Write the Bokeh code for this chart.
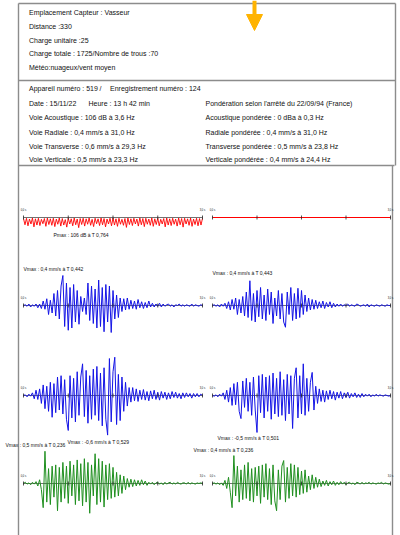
import math
import numpy as np
from bokeh.plotting import figure
from bokeh.models import Range1d, Arrow, NormalHead
from bokeh.core.properties import value
from bokeh.embed import file_html
from bokeh.resources import INLINE

# ---------------- data ----------------
header_lines = ["Emplacement Capteur : Vasseur", "Distance :330", "Charge unitaire :25",
                "Charge totale : 1725/Nombre de trous :70", "Météo:nuageux/vent moyen"]
device_no = "Appareil numéro : 519"
record_no = "Enregistrement numéro : 124"
date_txt = "Date : 15/11/22"
hour_txt = "Heure : 13 h 42 min"
voies = ["Voie Acoustique : 106 dB à 3,6 Hz", "Voie Radiale : 0,4 mm/s à 31,0 Hz",
         "Voie Transverse : 0,6 mm/s à 29,3 Hz", "Voie Verticale : 0,5 mm/s à 23,3 Hz"]
ponder_title = "Pondération selon l'arrêté du 22/09/94 (France)"
ponderees = ["Acoustique pondérée : 0 dBa à 0,3 Hz", "Radiale pondérée : 0,4 mm/s à 31,0 Hz",
             "Transverse pondérée : 0,5 mm/s à 23,8 Hz", "Verticale pondérée : 0,4 mm/s à 24,4 Hz"]
time_labels = ["0,0 s", "3,0 s"]
tick_times = [0.0, 0.75, 1.5, 2.25, 3.0]
duration = 3.0

# acoustic pressure (Pa), left = raw, right = weighted (flat)
acoustic_left = [
    -0.4, -2.8, -0.3, -3.2, -0.6, -2.5, -0.2, -3.6, -0.5, -2.9,
    -0.3, -3.1, -0.7, -2.4, -0.4, -3.4, -0.2, -2.7, -0.5, -3.0,
    -0.3, -3.5, -0.6, -2.6, -0.2, -3.3, -0.4, -2.9, -0.8, -3.7,
    -0.3, -2.5, -0.5, -3.2, -0.2, -2.8, -0.6, -3.9, -0.4, -2.7,
    -0.3, -3.3, -0.5, -2.6, -0.2, -3.0, -0.7, -3.5, -0.3, -2.4,
    -0.5, -3.1, -0.2, -2.8, -0.4, -3.6, -0.6, -2.5, -0.3, -3.2,
    -0.2, -2.9, -0.5, -3.4, -0.3, -2.6, -0.7, -3.0, -0.4, -3.8,
    -0.2, -2.7, -0.5, -3.1, -0.3, -2.5, -0.6, -3.3, -0.2, -2.8,
    -0.4, -3.5, -0.3, -2.6, -0.6, -3.0, -0.2, -3.4, -0.5, -2.7,
    -0.3, -3.2, -0.7, -2.5, -0.4, -3.6, -0.2, -2.9, -0.5, -3.1,
    -0.3, -2.6, -0.6, -3.3, -0.2, -2.8, -0.4, -3.7, -0.3, -2.5,
    -0.5, -3.0, -0.2, -3.4, -0.6, -2.7, -0.3, -3.2, -0.4, -2.9,
    -0.3]
acoustic_right = [0.0, 0.0]

# velocities (mm/s)
radial_left = [
    0.00, 0.01, -0.01, 0.02, -0.02, 0.01, -0.01, 0.02, -0.03, 0.02,
    -0.04, 0.06, -0.05, 0.09, -0.12, 0.07, -0.10, 0.16, -0.14, 0.20,
    -0.18, 0.26, 0.40, -0.28, 0.30, -0.33, 0.24, -0.30, 0.28, -0.22,
    0.20, -0.25, 0.12, -0.08, 0.10, -0.12, 0.30, -0.20, 0.26, -0.24,
    0.22, -0.30, 0.34, -0.28, 0.24, -0.35, 0.28, -0.22, 0.26, -0.36,
    0.20, -0.18, 0.14, -0.16, 0.10, -0.08, 0.09, -0.06, 0.10, -0.05,
    0.07, -0.04, 0.06, -0.05, 0.08, -0.03, 0.05, -0.04, 0.04, -0.03,
    0.06, -0.02, 0.03, -0.02, 0.02, -0.01, 0.03, -0.02, 0.02, -0.01,
    0.01, 0.02, -0.01, 0.01, -0.02, 0.01, 0.00, 0.02, -0.01, 0.01,
    -0.01, 0.01, 0.00, -0.01, 0.02, -0.01, 0.01, 0.00, -0.01, 0.01, 0.00]
radial_right = [
    0.00, 0.01, -0.01, 0.01, -0.02, 0.02, -0.01, 0.03, -0.04, 0.05,
    -0.06, 0.08, -0.05, 0.10, -0.12, 0.08, -0.10, 0.12, -0.14, 0.18,
    -0.16, 0.33, -0.20, 0.16, -0.22, 0.20, -0.15, 0.24, -0.18, 0.14,
    -0.20, 0.22, -0.12, 0.18, -0.24, 0.10, -0.14, 0.20, -0.18, 0.16,
    -0.22, -0.29, 0.18, -0.12, 0.24, -0.20, 0.16, -0.18, 0.23, -0.16,
    0.20, -0.12, 0.14, -0.08, 0.10, -0.06, 0.08, -0.05, 0.07, -0.04,
    0.05, -0.03, 0.06, -0.04, 0.04, -0.02, 0.05, -0.03, 0.03, -0.02,
    0.02, -0.01, 0.02, -0.01, 0.01, 0.00, 0.02, -0.01, 0.01, 0.00,
    -0.01, 0.02, 0.01, -0.01, 0.00, 0.01, -0.01, 0.02, -0.02, 0.01,
    0.00, -0.01, 0.01, 0.00, -0.01, 0.01, 0.00, -0.01, 0.01, 0.00, 0.00]
transverse_left = [
    0.00, 0.01, -0.02, 0.02, -0.01, 0.04, -0.05, 0.08, -0.06, 0.10,
    -0.12, 0.16, -0.20, 0.14, -0.24, 0.20, -0.33, 0.18, -0.26, 0.28,
    -0.22, 0.30, -0.28, 0.24, -0.36, -0.53, 0.30, -0.34, 0.26, -0.40,
    0.36, -0.30, 0.28, 0.48, -0.32, 0.38, -0.42, 0.30, -0.36, 0.40,
    -0.30, 0.44, -0.38, 0.34, -0.46, 0.42, -0.36, -0.60, 0.56, -0.40,
    0.36, 0.58, -0.44, 0.32, -0.38, 0.28, -0.24, 0.20, -0.16, 0.12,
    -0.10, 0.12, -0.08, 0.10, -0.09, 0.08, -0.06, 0.09, -0.07, 0.06,
    -0.08, 0.07, -0.05, 0.08, -0.06, 0.05, -0.07, 0.06, -0.04, 0.05,
    -0.06, 0.04, -0.05, 0.06, -0.03, 0.05, -0.04, 0.03, -0.05, 0.04,
    -0.03, 0.04, -0.02, 0.03, -0.04, 0.03, -0.02, 0.03, -0.02, 0.02, 0.00]
transverse_right = [
    0.00, -0.01, 0.01, -0.02, 0.02, -0.01, 0.04, -0.06, 0.08, -0.10,
    0.12, -0.15, 0.18, -0.14, 0.20, -0.24, -0.35, 0.22, -0.18, 0.26,
    -0.24, 0.20, -0.30, 0.28, -0.22, -0.56, 0.30, -0.26, 0.32, -0.34,
    0.28, -0.24, 0.30, -0.36, 0.34, -0.28, 0.26, -0.32, 0.36, -0.30,
    0.24, -0.38, 0.32, -0.28, 0.30, -0.50, 0.26, 0.42, -0.34, 0.30,
    -0.28, 0.48, -0.30, 0.26, -0.24, 0.20, 0.35, -0.22, 0.14, -0.12,
    0.10, -0.09, 0.08, -0.10, 0.07, -0.06, 0.08, -0.05, 0.06, -0.07,
    0.05, -0.04, 0.06, -0.05, 0.04, -0.03, 0.05, -0.04, 0.03, -0.02,
    0.04, -0.03, 0.02, -0.03, 0.03, -0.02, 0.02, -0.01, 0.02, -0.02,
    0.01, -0.01, 0.02, -0.01, 0.01, 0.00, -0.01, 0.01, 0.00, -0.01, 0.00]
vertical_left = [
    0.00, 0.02, -0.01, 0.01, -0.02, 0.02, -0.01, 0.03, -0.04, 0.06,
    -0.10, -0.39, 0.52, -0.30, 0.24, -0.34, 0.28, -0.22, 0.30, -0.44,
    0.26, -0.30, 0.34, -0.24, 0.28, -0.32, 0.36, -0.20, 0.30, -0.34,
    0.38, -0.28, 0.32, -0.36, 0.40, -0.30, 0.34, -0.48, 0.30, -0.20,
    0.48, -0.34, 0.40, -0.30, 0.36, -0.38, 0.30, -0.26, 0.32, -0.24,
    0.26, -0.22, 0.18, -0.20, 0.14, -0.16, 0.12, -0.10, 0.08, -0.06,
    0.07, -0.05, 0.06, -0.04, 0.05, -0.03, 0.06, -0.02, 0.04, -0.03,
    0.02, -0.01, 0.02, -0.02, 0.01, 0.02, -0.01, 0.01, -0.02, 0.02,
    -0.01, 0.01, 0.02, -0.01, 0.01, -0.01, 0.02, 0.00, -0.01, 0.01,
    0.01, -0.01, 0.02, -0.01, 0.01, 0.00, -0.01, 0.01, 0.00, 0.01, 0.00]
vertical_right = [
    0.00, 0.01, -0.01, 0.01, -0.02, 0.01, -0.03, 0.05, -0.08, 0.10,
    -0.14, -0.39, 0.45, -0.20, 0.28, -0.30, 0.22, -0.26, 0.30, -0.24,
    0.34, -0.28, 0.24, -0.30, 0.26, -0.20, 0.28, -0.32, 0.30, -0.22,
    0.32, -0.26, 0.24, -0.34, 0.30, -0.28, -0.44, 0.22, -0.26, 0.28,
    0.37, -0.30, 0.26, -0.24, 0.32, -0.20, 0.30, -0.22, 0.26, -0.18,
    0.20, -0.16, 0.22, -0.14, 0.12, -0.10, 0.14, -0.08, 0.10, -0.06,
    0.07, -0.05, 0.04, -0.03, 0.05, -0.04, 0.03, -0.02, 0.04, -0.03,
    0.02, -0.02, 0.03, -0.01, 0.02, -0.02, 0.01, 0.02, -0.01, 0.01,
    -0.02, 0.02, 0.01, -0.01, 0.02, -0.01, 0.01, 0.00, 0.02, -0.01,
    0.01, 0.00, -0.01, 0.01, 0.00, 0.02, -0.01, 0.01, 0.00, -0.01, 0.00]

peak_labels = ["Pmax : 106 dB à T 0,764",
               "Vmax : 0,4 mm/s à T 0,442", "Vmax : 0,4 mm/s à T 0,443",
               "Vmax : -0,6 mm/s à T 0,529", "Vmax : -0,5 mm/s à T 0,501",
               "Vmax : 0,5 mm/s à T 0,236", "Vmax : 0,4 mm/s à T 0,236"]

# ---------------- layout ----------------
X0, X1 = 0, 400
Y0, Y1 = 0, 535
FONT = value("Liberation Sans")
GREY = "#8c8c8c"
BLUE = "#1414e6"
GREEN = "#1f8f1f"
RED = "#ff0000"
ORANGE = "#FFB300"

p = figure(width=400, height=535, x_range=Range1d(X0, X1), y_range=Range1d(Y1, Y0),
           x_axis_type=None, y_axis_type=None, toolbar_location=None,
           output_backend="svg", min_border=0, outline_line_color=None)
p.grid.visible = False
p.background_fill_color = "white"

# frame lines
p.multi_line(xs=[[18, 18], [18, 395], [395, 395], [18, 395], [18, 394], [392, 392]],
             ys=[[3, 535], [3, 3], [3, 165], [80, 80], [165, 165], [165, 535]],
             line_color=GREY, line_width=1.4)

# arrow
p.add_layout(Arrow(end=NormalHead(size=16, fill_color=ORANGE, line_color=ORANGE),
                   x_start=254, y_start=0, x_end=254, y_end=30,
                   line_color=ORANGE, line_width=4))

def txt(xs, ys, texts, size="7px", align="left"):
    p.text(x=xs, y=ys, text=texts, text_font=FONT, text_font_size=size,
           text_align=align, text_baseline="middle", text_color="#111111")

txt([28.5] * 5, [12, 25.5, 39.5, 53, 67], header_lines)
txt([28.5, 99, 109.5], [87.5, 87.5, 87.5], [device_no, "/", record_no])
txt([28.5, 88], [102.5, 102.5], [date_txt, hour_txt])
txt([205], [102.5], [ponder_title])
txt([28.5] * 4, [117, 131.5, 145.5, 159], voies)
txt([205] * 4, [117, 131.5, 145.5, 159], ponderees)

# peak labels
txt([53, 23, 212, 67, 217, 5, 193], [234, 268.5, 272, 441.5, 437.5, 444.5, 449],
    peak_labels, size="5px")

def panel(name, vals, side, yb, scale, color, lw=1.0):
    a, b = (23, 202) if side == "L" else (212, 390)
    k = (b - a) / duration
    p.extra_x_ranges[name] = Range1d(0 - (a - X0) / k, duration + (X1 - b) / k)
    p.extra_y_ranges[name] = Range1d(-(Y1 - yb) / scale, (yb - Y0) / scale)
    t = np.linspace(0.0, duration, len(vals))
    p.line(x=[0.0, duration], y=[0.0, 0.0], line_color="#333333", line_width=0.7,
           x_range_name=name, y_range_name=name)
    p.line(x=t, y=vals, line_color=color, line_width=lw,
           x_range_name=name, y_range_name=name)
    p.scatter(x=tick_times, y=[0.0] * len(tick_times), marker="dash", size=4,
              angle=math.pi / 2, line_color="#222222", line_width=0.8,
              x_range_name=name, y_range_name=name)
    p.text(x=[0.0, duration], y=[0.0, 0.0], text=time_labels, x_range_name=name,
           y_range_name=name, y_offset=-7, text_align="center", text_baseline="middle",
           text_font=FONT, text_font_size="2.6px", text_color="#111111")

panel("acl", acoustic_left, "L", 217, 2.6, RED, 0.9)
panel("acr", acoustic_right, "R", 217, 2.6, RED, 1.0)
panel("rl", radial_left, "L", 305, 75, BLUE)
panel("rr", radial_right, "R", 305, 75, BLUE)
panel("tl", transverse_left, "L", 395, 66, BLUE)
panel("tr", transverse_right, "R", 395, 66, BLUE)
panel("vl", vertical_left, "L", 483, 62, GREEN)
panel("vr", vertical_right, "R", 483, 62, GREEN)

open("out.html", "w").write(file_html(p, INLINE, title="Enregistrement"))
